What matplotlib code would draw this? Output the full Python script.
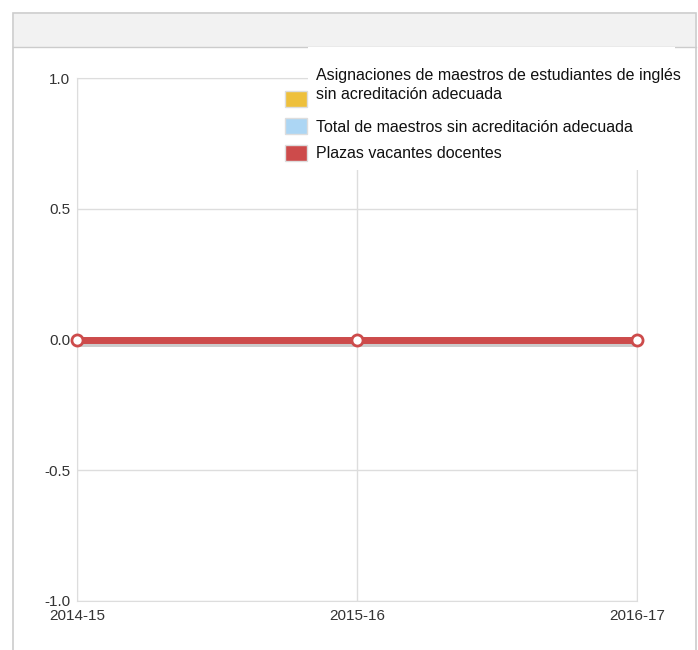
import matplotlib
matplotlib.use('Agg')
import matplotlib.pyplot as plt  # noqa E402
from matplotlib.patches import Rectangle  # noqa E402
from matplotlib.lines import Line2D  # noqa E402

plt.rcParams['font.family'] = ['Liberation Sans', 'DejaVu Sans']

# data
years = ["2014-15", "2015-16", "2016-17"]
el_misassign = [0, 0, 0]
total_misassign = [0, 0, 0]
vacancies = [0, 0, 0]

series_names = ["Asignaciones de maestros de estudiantes de inglés\nsin acreditación adecuada",
                "Total de maestros sin acreditación adecuada",
                "Plazas vacantes docentes"]
series_colors = ["#eec03c", "#acd6f4", "#cd4b4b"]

W, H = 698, 650
fig = plt.figure(figsize=(W / 100, H / 100), dpi=100)


def fx(px):
    return px / W


def fy(py):
    return 1 - py / H


# outer panel and header band (behind the axes), runs past the bottom edge
fig.add_artist(Rectangle((fx(13), fy(660)), fx(683), fy(13) - fy(660),
                         transform=fig.transFigure, facecolor='white',
                         edgecolor='#cccccc', lw=1.2, zorder=-5,
                         clip_on=False))
fig.add_artist(Rectangle((fx(14), fy(47)), fx(681), fy(14) - fy(47),
                         transform=fig.transFigure, facecolor='#f2f2f2',
                         edgecolor='none', zorder=-4))
fig.add_artist(Line2D([fx(13), fx(696)], [fy(47), fy(47)],
                      transform=fig.transFigure, color='#cccccc', lw=1,
                      zorder=-3))

ax = fig.add_axes([fx(77), fy(601), fx(560), fy(78) - fy(601)])
ax.set_facecolor('none')
x = list(range(len(years)))
for vals, col in zip([el_misassign, total_misassign], series_colors[:2]):
    ax.plot(x, vals, color=col, lw=4, zorder=3)
ax.plot(x, [v - 0.012 for v in vacancies], color='#999999', lw=5,
        alpha=0.5, zorder=3)
ax.plot(x, vacancies, color=series_colors[2], lw=5, zorder=4,
        marker='o', markersize=8, markerfacecolor='white',
        markeredgecolor=series_colors[2], markeredgewidth=2, clip_on=False)

ax.set_xlim(0, 2)
ax.set_ylim(-1, 1)
ax.set_xticks(x)
ax.set_xticklabels(years)
ax.set_yticks([-1.0, -0.5, 0.0, 0.5, 1.0])
ax.set_yticklabels(["-1.0", "-0.5", "0.0", "0.5", "1.0"])
ax.grid(True, color='#dddddd', lw=1)
for s in ax.spines.values():
    s.set_color('#dddddd')
ax.tick_params(length=0, labelsize=11, colors='#333333')
ax.tick_params(axis='x', pad=6)
ax.tick_params(axis='y', pad=5)

# legend box
fig.add_artist(Rectangle((fx(308), fy(170)), fx(367), fy(47) - fy(170),
                         transform=fig.transFigure, facecolor='white',
                         edgecolor='none', zorder=5))
sq_top = [91, 118, 145]
txt_y = [85, 127, 154]
for name, col, t, ty in zip(series_names, series_colors, sq_top, txt_y):
    fig.add_artist(Rectangle((fx(285), fy(t + 16)), fx(22), fy(t) - fy(t + 16),
                             transform=fig.transFigure, facecolor=col,
                             edgecolor='#dddddd', lw=1, zorder=6))
    fig.text(fx(316), fy(ty), name, fontsize=11.5, color='#111111',
             va='center', ha='left', zorder=6, linespacing=1.3)

fig.savefig("out.png", dpi=100)
